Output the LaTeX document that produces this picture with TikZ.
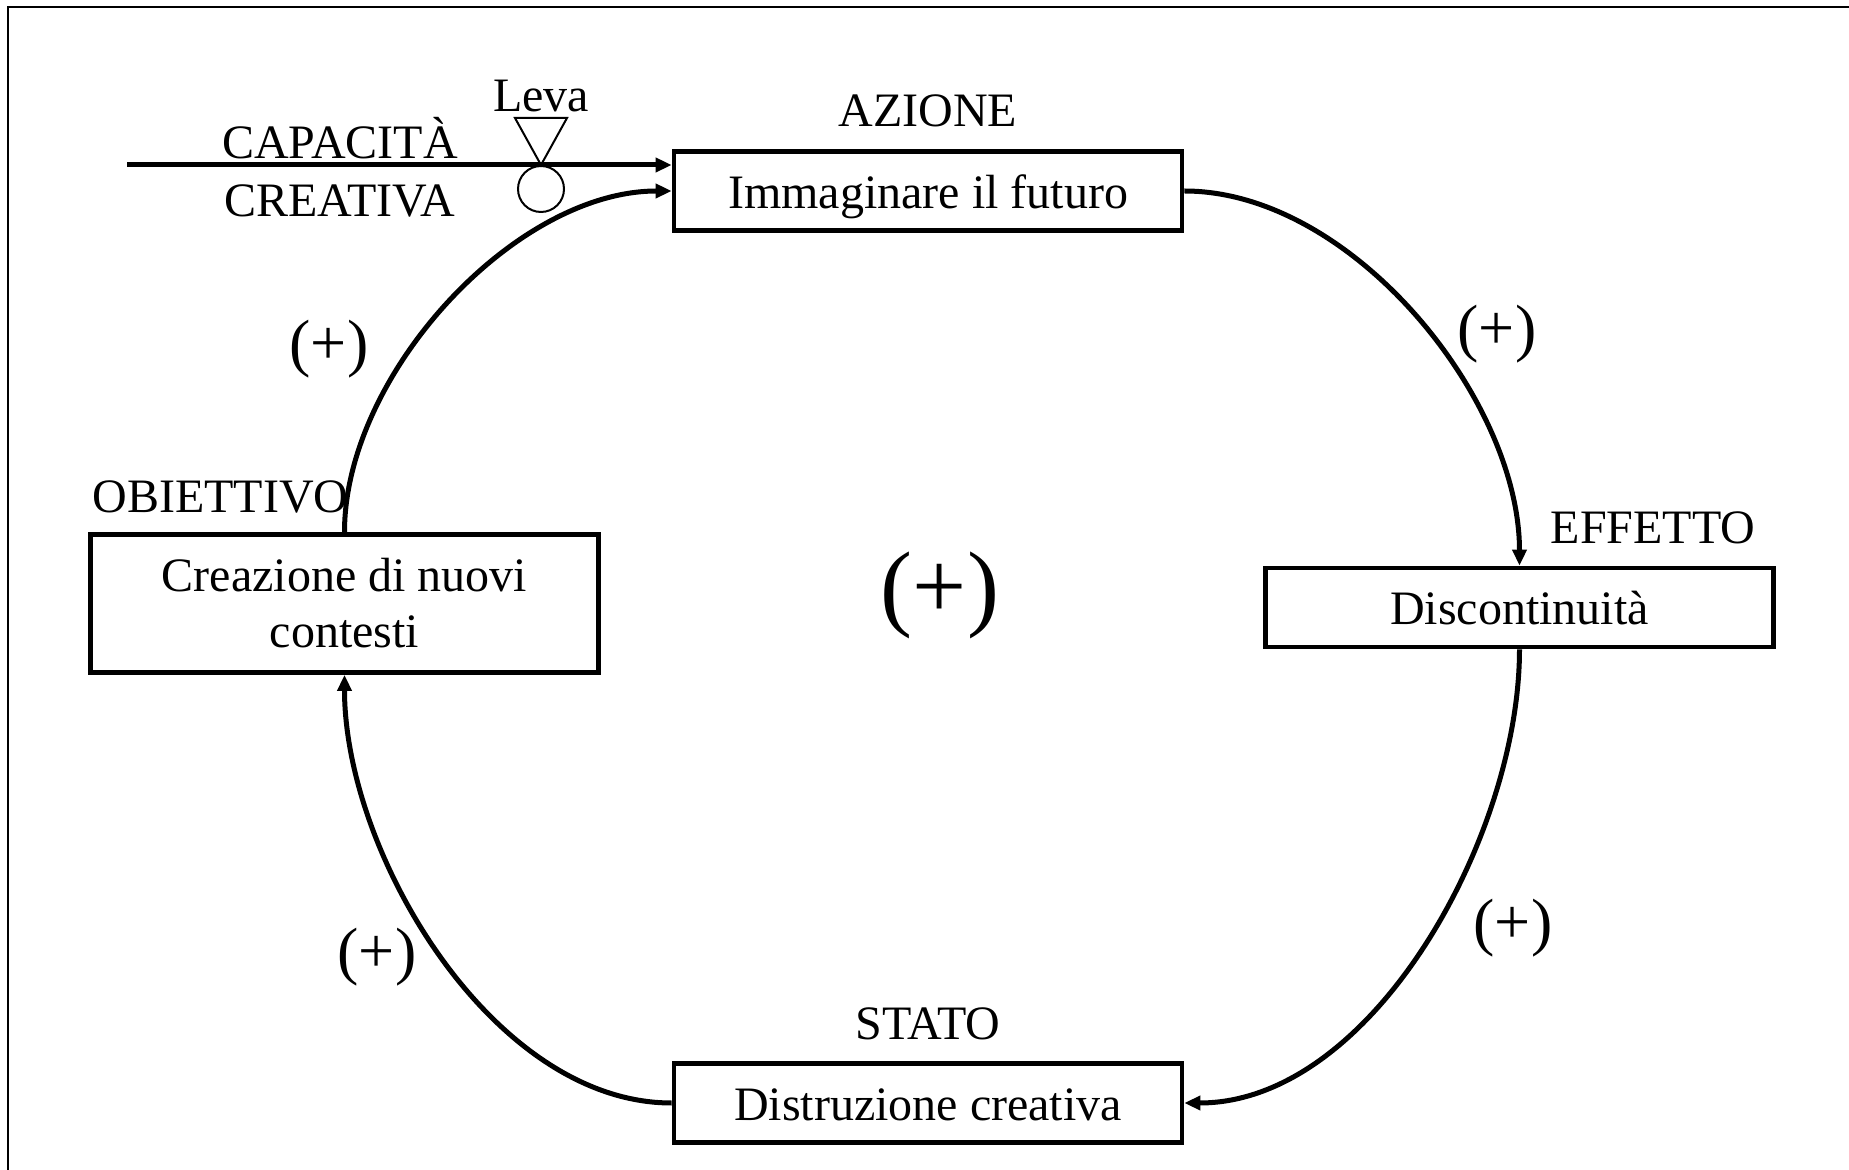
\documentclass[tikz,border=0pt]{standalone}
\usepackage{fontspec}
\setmainfont{Liberation Serif}
\usetikzlibrary{arrows.meta}
\begin{document}
\begin{tikzpicture}[x=0.5pt,y=-0.5pt,
  box/.style={draw,line width=2.4pt,minimum width=254pt,minimum height=39.5pt,
    inner sep=0pt,align=center,font=\fontsize{24}{28}\selectfont},
  onebox/.style={box,text height=17.5pt,text depth=0pt},
  lbl/.style={inner sep=0pt,font=\fontsize{24}{28}\selectfont},
  sign/.style={inner sep=0pt,font=\fontsize{32}{36}\selectfont},
  bigsign/.style={inner sep=0pt,font=\fontsize{48}{54}\selectfont},
  link/.style={line width=2.5pt,looseness=0.85,-{Triangle[length=8pt,width=7pt]}},
  valve/.style={line width=1pt}]
\useasboundingbox (0,0) rectangle (1849,1170);

% outer frame
\draw[line width=1pt] (8,1170) -- (8,7) -- (1849,7);

% the four stages of the loop
\node[onebox] (imm)  at (928,191)   {Immaginare il futuro};
\node[onebox] (dis)  at (1519.5,607.5) {Discontinuità};
\node[onebox] (dist) at (928,1103)  {Distruzione creativa};
\node[box,minimum height=69pt] (crea) at (344.5,603.5) {Creazione di nuovi\\contesti};

% stage headings
\node[lbl,anchor=base] (azione) at (928,127) {AZIONE};
\node[lbl,anchor=base] (effetto) at (1653,544) {EFFETTO};
\node[lbl,anchor=base] (stato) at (928,1039) {STATO};
\node[lbl,anchor=base west] (obiettivo) at (92,513) {OBIETTIVO};

% loop connectors
\draw[link] (imm.east) to[out=0,in=90] (dis.north);
\draw[link] (dis.south) to[out=-90,in=0] (dist.east);
\draw[link] (dist.west) to[out=180,in=-90] (crea.south);
\draw[link] (crea.north) to[out=90,in=180] (imm.west);

% polarity signs
\node[sign] (p1) at (1497,334) {(+)};
\node[sign] (p2) at (1513,928) {(+)};
\node[sign] (p3) at (377,957) {(+)};
\node[sign] (p4) at (329,349) {(+)};
\node[bigsign] (loop) at (940,595) {(+)};

% external input with its lever
\coordinate (src) at (127,165);
\draw[link] (src) -- (src -| imm.west);
\node[lbl,anchor=base] (cap1) at (340,159) {CAPACITÀ};
\node[lbl,anchor=base] (cap2) at (340,217) {CREATIVA};
\node[draw,circle,valve,minimum size=23pt,inner sep=0pt] (valvec) at (541,189) {};
\draw[valve] (515,118) -- (567,118) -- (541,165) -- cycle;
\node[lbl,anchor=base] (leva) at (541,112) {Leva};
\end{tikzpicture}
\end{document}
